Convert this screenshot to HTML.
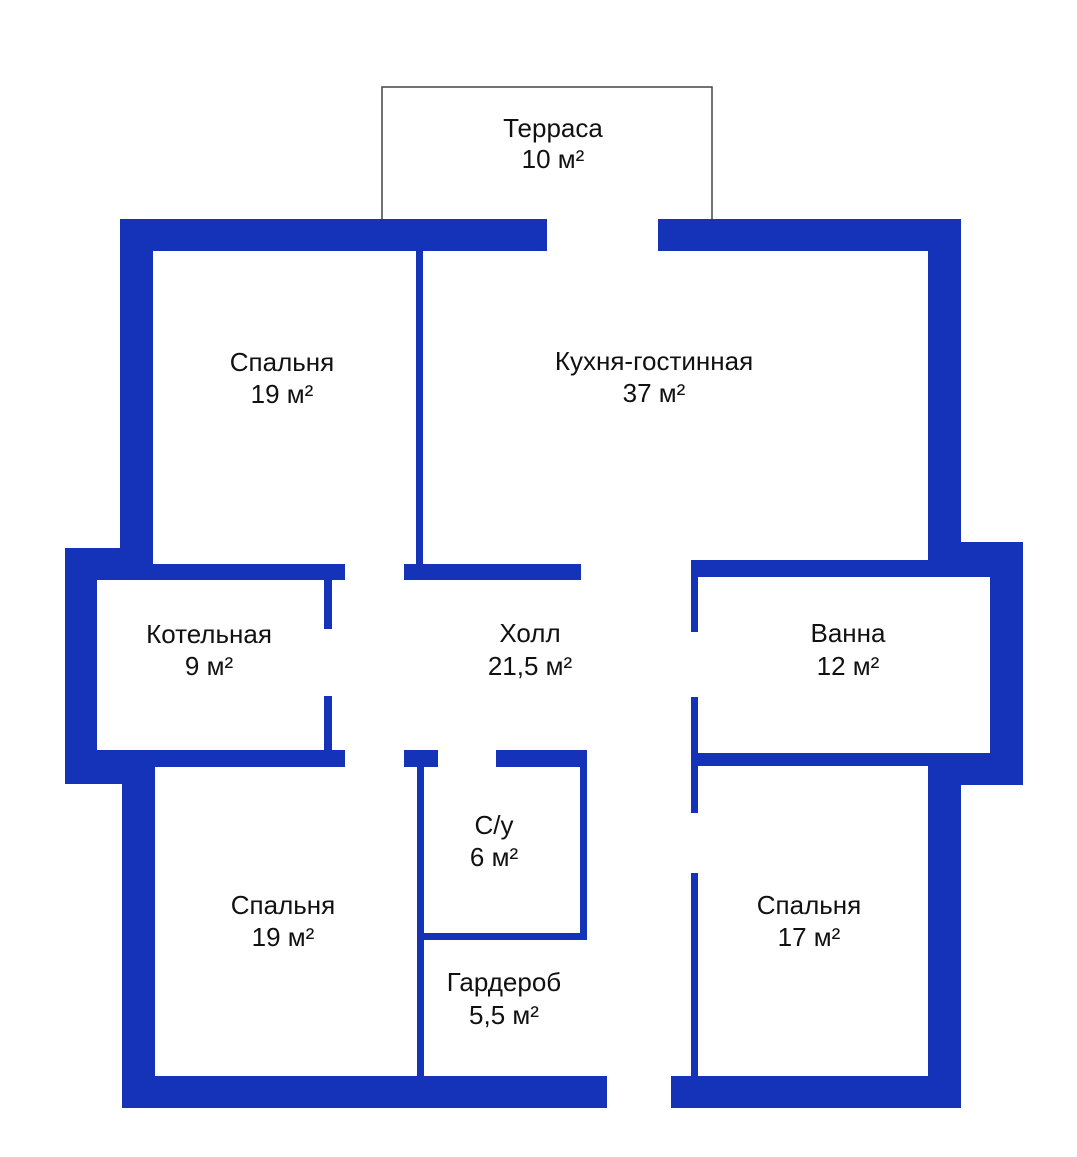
<!DOCTYPE html>
<html><head><meta charset="utf-8"><style>
html,body{margin:0;padding:0;background:#fff;}
svg{display:block;}
text{font-family:"Liberation Sans",sans-serif;font-size:26px;fill:#111;text-anchor:middle;}
</style></head><body>
<svg width="1077" height="1157" viewBox="0 0 1077 1157" xmlns="http://www.w3.org/2000/svg">
<path d="M382 220 V87 H712 V220" fill="none" stroke="#444" stroke-width="1.5"/>
<g fill="#1533b8">
<rect x="120" y="219" width="427" height="32"/>
<rect x="120" y="219" width="33" height="361"/>
<rect x="65" y="548" width="88" height="32"/>
<rect x="120" y="564" width="225" height="16"/>
<rect x="65" y="548" width="32" height="236"/>
<rect x="65" y="750" width="280" height="17"/>
<rect x="65" y="750" width="89" height="34"/>
<rect x="122" y="750" width="33" height="358"/>
<rect x="122" y="1076" width="485" height="32"/>
<rect x="416" y="251" width="7" height="313"/>
<rect x="324" y="580" width="8" height="49"/>
<rect x="324" y="696" width="8" height="54"/>
<rect x="404" y="564" width="177" height="16"/>
<rect x="404" y="750" width="34" height="17"/>
<rect x="417" y="750" width="7" height="326"/>
<rect x="496" y="750" width="91" height="17"/>
<rect x="580" y="750" width="7" height="190"/>
<rect x="424" y="933" width="163" height="7"/>
<rect x="658" y="219" width="303" height="32"/>
<rect x="928" y="219" width="33" height="358"/>
<rect x="928" y="542" width="95" height="35"/>
<rect x="691" y="560" width="270" height="17"/>
<rect x="990" y="542" width="33" height="243"/>
<rect x="691" y="753" width="332" height="13"/>
<rect x="928" y="753" width="95" height="32"/>
<rect x="928" y="753" width="33" height="355"/>
<rect x="671" y="1076" width="290" height="32"/>
<rect x="691" y="577" width="7" height="55"/>
<rect x="691" y="697" width="7" height="56"/>
<rect x="691" y="766" width="7" height="47"/>
<rect x="691" y="873" width="7" height="203"/>
</g>
<text x="553" y="137">Терраса</text><text x="553" y="168">10 м²</text>
<text x="282" y="371">Спальня</text><text x="282" y="403">19 м²</text>
<text x="654" y="370">Кухня-гостинная</text><text x="654" y="402">37 м²</text>
<text x="209" y="643">Котельная</text><text x="209" y="675">9 м²</text>
<text x="530" y="642">Холл</text><text x="530" y="675">21,5 м²</text>
<text x="848" y="642">Ванна</text><text x="848" y="675">12 м²</text>
<text x="494" y="834">С/у</text><text x="494" y="866">6 м²</text>
<text x="283" y="914">Спальня</text><text x="283" y="946">19 м²</text>
<text x="809" y="914">Спальня</text><text x="809" y="946">17 м²</text>
<text x="504" y="991">Гардероб</text><text x="504" y="1024">5,5 м²</text>
</svg>
</body></html>
